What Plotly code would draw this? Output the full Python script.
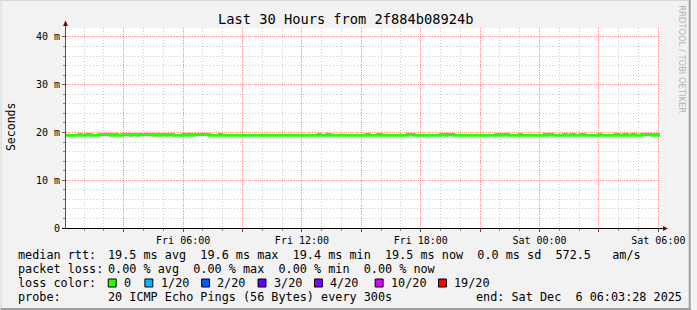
import pandas as pd
import plotly.graph_objects as go

# ---------------- data ----------------
title_text = "Last 30 Hours from 2f884b08924b"
y_title = "Seconds"
start_time = "2025-12-05 00:05:00"
end_time = "2025-12-06 06:05:00"
step_minutes = 5

# median rtt (ms), one value per 5-minute step
median_ms = [
    19.4, 19.4, 19.4, 19.4, 19.4, 19.4, 19.4, 19.4, 19.6, 19.4, 19.4, 19.4, 19.6, 19.6, 19.6, 19.4, 19.4, 19.4, 19.4, 19.4,
    19.6, 19.6, 19.6, 19.6, 19.6, 19.6, 19.6, 19.4, 19.4, 19.6, 19.6, 19.4, 19.4, 19.4, 19.6, 19.6, 19.6, 19.6, 19.6, 19.4,
    19.6, 19.6, 19.6, 19.4, 19.6, 19.6, 19.6, 19.6, 19.6, 19.6, 19.6, 19.6, 19.6, 19.4, 19.6, 19.6, 19.4, 19.4, 19.6, 19.6,
    19.6, 19.4, 19.6, 19.6, 19.6, 19.4, 19.4, 19.4, 19.4, 19.4, 19.4, 19.6, 19.6, 19.4, 19.6, 19.6, 19.4, 19.4, 19.6, 19.6,
    19.6, 19.6, 19.6, 19.6, 19.6, 19.6, 19.6, 19.4, 19.4, 19.4, 19.4, 19.4, 19.4, 19.6, 19.4, 19.4, 19.4, 19.4, 19.4, 19.4,
    19.4, 19.4, 19.4, 19.4, 19.4, 19.4, 19.4, 19.4, 19.4, 19.4, 19.4, 19.4, 19.4, 19.4, 19.4, 19.4, 19.4, 19.4, 19.4, 19.4,
    19.4, 19.4, 19.4, 19.4, 19.4, 19.4, 19.4, 19.4, 19.4, 19.4, 19.4, 19.4, 19.4, 19.4, 19.4, 19.4, 19.4, 19.4, 19.4, 19.4,
    19.4, 19.4, 19.4, 19.4, 19.4, 19.4, 19.4, 19.4, 19.4, 19.4, 19.4, 19.4, 19.4, 19.6, 19.4, 19.4, 19.4, 19.4, 19.6, 19.6,
    19.4, 19.4, 19.4, 19.4, 19.4, 19.4, 19.4, 19.4, 19.4, 19.4, 19.4, 19.4, 19.4, 19.4, 19.4, 19.4, 19.4, 19.4, 19.4, 19.4,
    19.4, 19.4, 19.6, 19.6, 19.4, 19.4, 19.4, 19.4, 19.4, 19.6, 19.6, 19.4, 19.4, 19.4, 19.4, 19.4, 19.4, 19.4, 19.4, 19.4,
    19.4, 19.4, 19.4, 19.4, 19.4, 19.4, 19.4, 19.6, 19.6, 19.6, 19.6, 19.4, 19.4, 19.4, 19.4, 19.4, 19.4, 19.4, 19.4, 19.4,
    19.4, 19.4, 19.4, 19.4, 19.4, 19.4, 19.4, 19.6, 19.6, 19.6, 19.4, 19.6, 19.6, 19.6, 19.6, 19.4, 19.4, 19.4, 19.4, 19.4,
    19.4, 19.4, 19.4, 19.4, 19.4, 19.4, 19.4, 19.4, 19.4, 19.4, 19.4, 19.4, 19.4, 19.4, 19.4, 19.4, 19.4, 19.4, 19.4, 19.4,
    19.4, 19.6, 19.6, 19.4, 19.4, 19.6, 19.6, 19.6, 19.4, 19.4, 19.4, 19.4, 19.4, 19.4, 19.4, 19.6, 19.4, 19.4, 19.4, 19.4,
    19.4, 19.4, 19.4, 19.4, 19.4, 19.4, 19.4, 19.4, 19.4, 19.4, 19.6, 19.4, 19.6, 19.6, 19.6, 19.4, 19.4, 19.4, 19.4, 19.4,
    19.4, 19.4, 19.6, 19.4, 19.4, 19.4, 19.6, 19.6, 19.4, 19.4, 19.4, 19.4, 19.6, 19.6, 19.4, 19.4, 19.4, 19.4, 19.4, 19.4,
    19.4, 19.4, 19.4, 19.6, 19.4, 19.4, 19.4, 19.4, 19.4, 19.4, 19.4, 19.4, 19.4, 19.6, 19.6, 19.4, 19.4, 19.4, 19.6, 19.6,
    19.4, 19.4, 19.4, 19.6, 19.6, 19.4, 19.4, 19.4, 19.4, 19.6, 19.6, 19.6, 19.6, 19.6, 19.6, 19.4, 19.4, 19.6, 19.6, 19.4,
]

y_tick_values = [0, 10, 20, 30, 40]
y_tick_labels = ["0", "10 m", "20 m", "30 m", "40 m"]
y_max_ms = 41.88

x_tick_times = ["2025-12-05 03:00", "2025-12-05 06:00", "2025-12-05 09:00", "2025-12-05 12:00",
                "2025-12-05 15:00", "2025-12-05 18:00", "2025-12-05 21:00", "2025-12-06 00:00",
                "2025-12-06 03:00", "2025-12-06 06:00"]
x_tick_labels = ["", "Fri 06:00", "", "Fri 12:00", "", "Fri 18:00", "", "Sat 00:00", "", "Sat 06:00"]

legend_rtt = "19.5 ms avg  19.6 ms max  19.4 ms min  19.5 ms now  0.0 ms sd  572.5   am/s"
legend_loss = "0.00 % avg  0.00 % max  0.00 % min  0.00 % now"
loss_labels = ["0", "1/20", "2/20", "3/20", "4/20", "10/20", "19/20"]
loss_colors = ["#26ff00", "#00b8ff", "#0059ff", "#5e00ff", "#7e00ff", "#dd00ff", "#ff0000"]
probe_text = "20 ICMP Echo Pings (56 Bytes) every 300s"
end_text = "end: Sat Dec  6 06:03:28 2025"
credit_text = "RRDTOOL / TOBI OETIKER"

# ---------------- layout geometry ----------------
W, H = 697, 310
L, R, T, B = 66, 31, 28, 82
PW, PH = W - L - R, H - T - B
MONO = "DejaVu Sans Mono"


def px(x):
    return (x - L) / PW


def py(y):
    return (H - B - y) / PH


times = pd.date_range(start_time, periods=len(median_ms) + 1, freq=f"{step_minutes}min")
yvals = median_ms + [median_ms[-1]]

fig = go.Figure()
fig.add_trace(go.Scatter(x=times, y=yvals, mode="lines", line=dict(color="#26ff00", width=3, shape="hv"),
                         hoverinfo="skip", showlegend=False))

grid_major = "rgba(255,80,80,0.45)"
grid_minor = "rgba(170,170,170,0.6)"

fig.update_layout(
    width=W, height=H, margin=dict(l=L, r=R, t=T, b=B),
    paper_bgcolor="#f2f2f2", plot_bgcolor="#ffffff",
    showlegend=False,
    font=dict(family=MONO, color="#000000", size=10),
    xaxis=dict(
        range=[start_time, end_time], type="date",
        tickmode="array", tickvals=x_tick_times, ticktext=x_tick_labels,
        showgrid=True, gridcolor=grid_major, griddash="1px,1px", gridwidth=1,
        ticks="outside", ticklen=3, tickcolor="#555555",
        showline=True, linecolor="#000000", linewidth=1,
        zeroline=False, tickfont=dict(family=MONO, size=10),
        minor=dict(dtick=3600000, tick0="2025-12-05 00:00", showgrid=True, gridcolor=grid_minor,
                   griddash="1px,2px", ticks="outside", ticklen=2, tickcolor="#888888"),
        fixedrange=True,
    ),
    yaxis=dict(
        range=[0, y_max_ms],
        tickmode="array", tickvals=y_tick_values, ticktext=y_tick_labels,
        showgrid=True, gridcolor=grid_major, griddash="1px,1px", gridwidth=1,
        ticks="outside", ticklen=3, tickcolor="#555555",
        showline=True, linecolor="#555555", linewidth=1,
        zeroline=False, tickfont=dict(family=MONO, size=10),
        minor=dict(dtick=2, tick0=0, showgrid=True, gridcolor=grid_minor, griddash="1px,2px",
                   ticks="outside", ticklen=2, tickcolor="#888888"),
        fixedrange=True,
    ),
)

shapes = []
# frame (3D border)
shapes.append(dict(type="line", xref="paper", yref="paper", x0=px(0), x1=px(W), y0=py(0.5), y1=py(0.5),
                   line=dict(color="#d6d6d6", width=1)))
shapes.append(dict(type="line", xref="paper", yref="paper", x0=px(0.5), x1=px(0.5), y0=py(0), y1=py(H),
                   line=dict(color="#d6d6d6", width=1)))
shapes.append(dict(type="line", xref="paper", yref="paper", x0=px(0), x1=px(W), y0=py(H - 1), y1=py(H - 1),
                   line=dict(color="#9e9e9e", width=2)))
shapes.append(dict(type="line", xref="paper", yref="paper", x0=px(W - 1), x1=px(W - 1), y0=py(0), y1=py(H),
                   line=dict(color="#9e9e9e", width=2)))
# axis extensions and arrows
shapes.append(dict(type="line", xref="paper", yref="paper", x0=px(65.5), x1=px(65.5), y0=py(228), y1=py(24),
                   line=dict(color="#555555", width=1)))
shapes.append(dict(type="line", xref="paper", yref="paper", x0=px(62), x1=px(669), y0=py(228.5), y1=py(228.5),
                   line=dict(color="#000000", width=1)))
shapes.append(dict(type="path", xref="paper", yref="paper",
                   path=f"M {px(63)} {py(26)} L {px(68)} {py(26)} L {px(65.5)} {py(20.5)} Z",
                   fillcolor="#800000", line=dict(width=0)))
shapes.append(dict(type="path", xref="paper", yref="paper",
                   path=f"M {px(669)} {py(226)} L {px(669)} {py(231)} L {px(674)} {py(228.5)} Z",
                   fillcolor="#800000", line=dict(width=0)))

annotations = []


def text(x, y, s, size=11.8, color="#000000", xanchor="left", angle=0, family=MONO):
    annotations.append(dict(x=px(x), y=py(y), xref="paper", yref="paper", text=s, showarrow=False,
                            xanchor=xanchor, yanchor="middle", textangle=angle,
                            font=dict(family=family, size=size, color=color)))


text(348, 19, title_text, size=13.7, xanchor="center")
text(10, 127.5, y_title, size=11.5, xanchor="center", angle=-90)
text(688, 59, credit_text, size=8.4, color="#b4b4b4", xanchor="center", angle=90, family="DejaVu Sans")

LX, VX = 15, 106.5
rows = [254.5, 268.5, 282.5, 296.5]
text(LX, rows[0], "median rtt:")
text(VX, rows[0], legend_rtt.replace(" ", "&nbsp;"))
text(LX, rows[1], "packet loss:")
text(VX, rows[1], legend_loss.replace(" ", "&nbsp;"))
text(LX, rows[2], "loss color:")
box_x = [108.7, 145.7, 203, 260, 317, 378.3, 442.3]
for bx, lab, col in zip(box_x, loss_labels, loss_colors):
    shapes.append(dict(type="rect", xref="paper", yref="paper", x0=px(bx), x1=px(bx + 8),
                       y0=py(279), y1=py(287), fillcolor=col, line=dict(color="#000000", width=1)))
    text(bx + 14, rows[2], lab)
text(LX, rows[3], "probe:")
text(VX, rows[3], probe_text.replace(" ", "&nbsp;"))
text(478, rows[3], end_text.replace(" ", "&nbsp;"))

fig.update_layout(shapes=shapes, annotations=annotations)
fig.write_html("out.html", config=dict(displayModeBar=False))
